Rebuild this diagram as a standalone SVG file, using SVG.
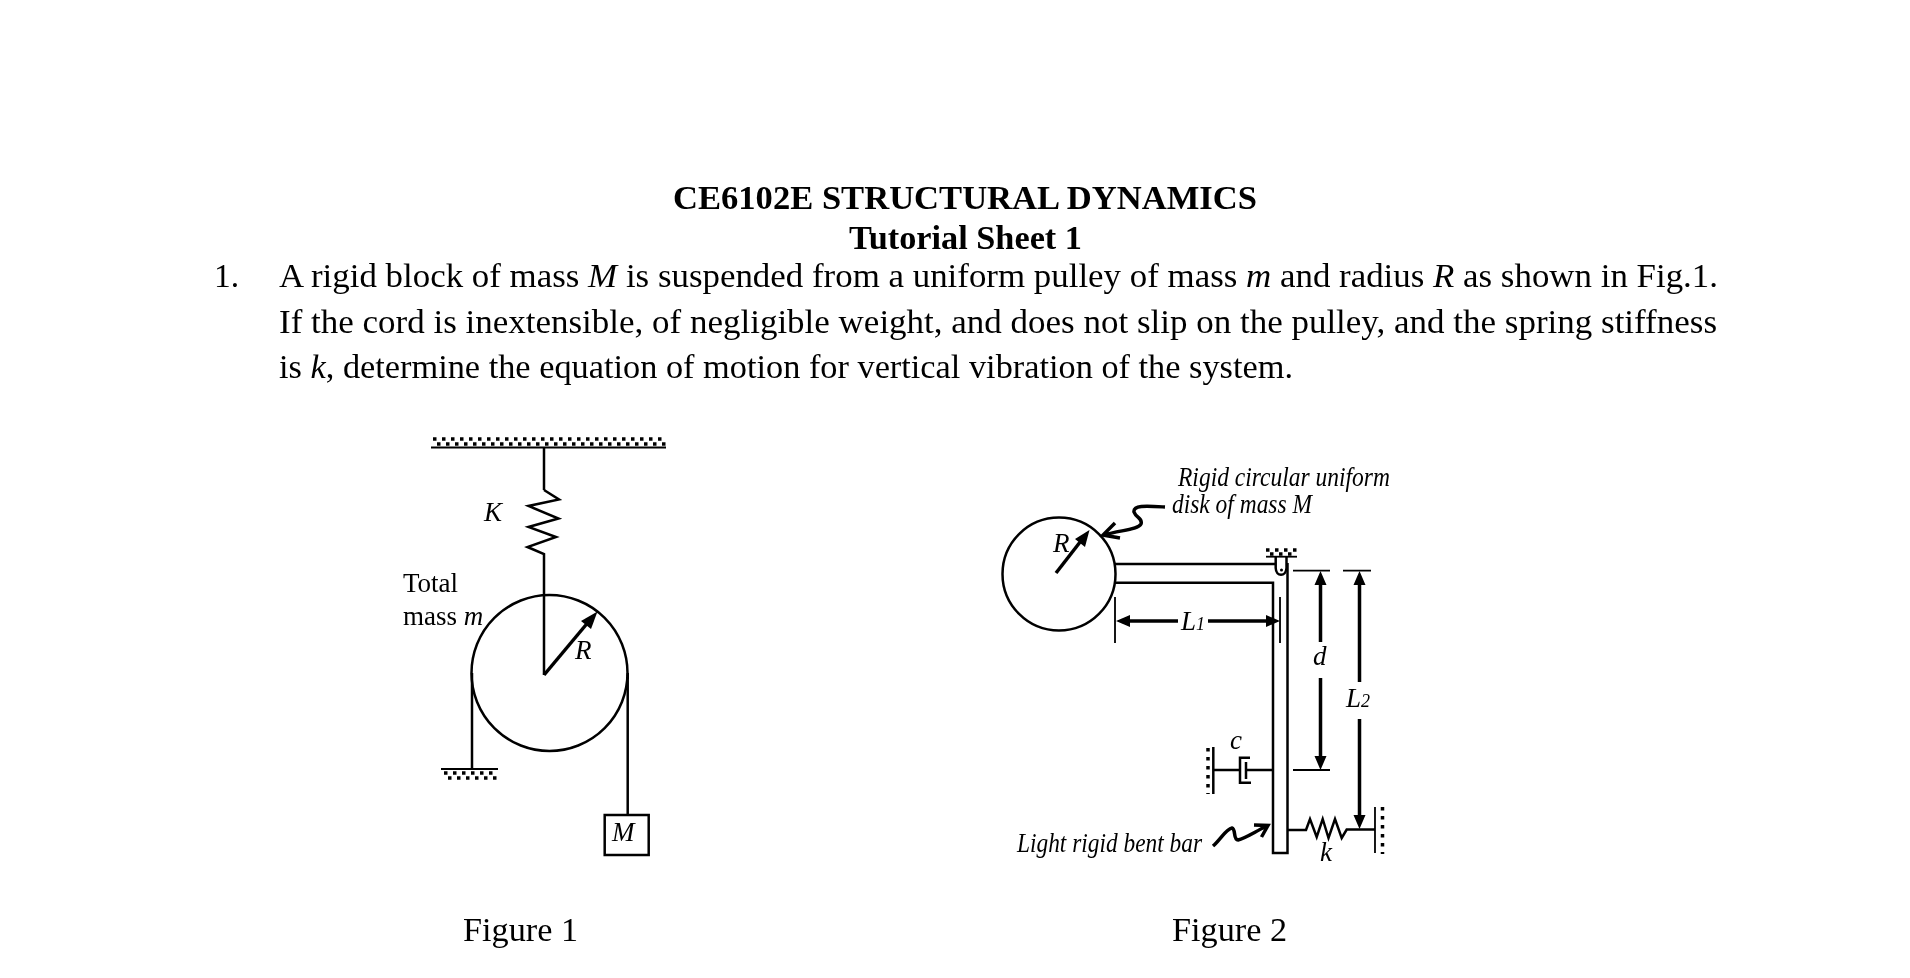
<svg xmlns="http://www.w3.org/2000/svg" width="1910" height="978" viewBox="0 0 1910 978">
<defs><filter id="soft" x="0" y="0" width="1" height="1" filterUnits="objectBoundingBox"><feGaussianBlur stdDeviation="0.45"/></filter></defs>
<style>
text{font-family:"Liberation Serif","Times New Roman",serif;fill:#000}
.b{font-size:33.500px;font-weight:bold}
.t{font-size:33.500px}
.l{font-size:27px}
.i{font-style:italic}
.s{font-size:27px;font-style:italic}
.ln{fill:none;stroke:#000;stroke-width:2.500}
.th{fill:none;stroke:#000;stroke-width:1.800}
.hv{fill:none;stroke:#000;stroke-width:3.500}
.dot{fill:none;stroke:#000;stroke-width:3.500;stroke-dasharray:3.500 5.500}
.ah{fill:#000;stroke:none}
</style>
<rect width="1910" height="978" fill="#fff"/>
<g filter="url(#soft)">
<rect width="1910" height="978" fill="#fff"/>
<g id="text-block">
<text class="b" x="673" y="209" textLength="584" lengthAdjust="spacingAndGlyphs">CE6102E STRUCTURAL DYNAMICS</text>
<text class="b" x="849" y="249" textLength="233" lengthAdjust="spacingAndGlyphs">Tutorial Sheet 1</text>
<text class="t" x="214" y="287">1.</text>
<text class="t" x="279" y="287" textLength="1439" lengthAdjust="spacingAndGlyphs">A rigid block of mass <tspan class="i">M</tspan> is suspended from a uniform pulley of mass <tspan class="i">m</tspan> and radius <tspan class="i">R</tspan> as shown in Fig.1.</text>
<text class="t" x="279" y="333" textLength="1438" lengthAdjust="spacingAndGlyphs">If the cord is inextensible, of negligible weight, and does not slip on the pulley, and the spring stiffness</text>
<text class="t" x="279" y="378" textLength="1014" lengthAdjust="spacingAndGlyphs">is <tspan class="i">k</tspan>, determine the equation of motion for vertical vibration of the system.</text>
</g>
<g id="connectors">
<path id="fig1-ceiling-cord" class="ln" d="M544 447V490"/>
<path id="fig1-spring" class="ln" d="M544 490L559 499.500L528.500 506L558.500 518.500L528.500 527L556 537L527.500 547L544 554V675"/>
<path id="fig1-radius" class="hv" d="M544 675L590 620"/>
<path class="ah" d="M597.500 611.500L591 629L581 621Z"/>
<path id="fig1-left-cord" class="ln" d="M472 673V769"/>
<path id="fig1-right-cord" class="ln" d="M627.700 673V815"/>
<path id="fig2-disk-leader" class="hv" d="M1165 507C1146 506 1133 505 1134 512C1136 518 1143 518 1141 524C1138 530 1120 530 1104 535M1115 523L1103 535L1120 538"/>
<path id="fig2-bar-leader" class="hv" d="M1213 846C1220 840 1226 829 1232 828C1236 829 1233 840 1238 840C1246 838 1256 831 1267 826M1254 825L1268 825.500L1261.500 837"/>
<path id="fig2-spring" class="ln" d="M1288 830H1306L1310 819L1316.700 837L1322.700 819L1328.500 838L1335 819L1341.700 838L1346.700 829.500H1375"/>
<path id="fig2-damper-rod" class="ln" d="M1213 770H1240M1246 770H1273"/>
</g>
<g id="node-fig1-ceiling">
<path class="dot" d="M433 439H666"/><path class="dot" d="M437 444H666"/>
<path class="th" d="M431 447.500H666"/>
</g>
<g id="node-fig1-ground">
<path class="th" d="M441 769H498"/>
<path class="dot" d="M444 773H498"/><path class="dot" d="M448 778H498"/>
</g>
<g id="node-fig1-pulley"><circle cx="549.500" cy="673" r="78" class="ln"/></g>
<g id="node-fig1-block"><rect x="604.700" y="815" width="44" height="40" class="ln"/>
<text class="s" x="612" y="841">M</text></g>
<g id="fig1-labels">
<text class="s" x="484" y="521">K</text>
<text class="l" x="403" y="592">Total</text>
<text class="l" x="403" y="625">mass <tspan class="i">m</tspan></text>
<text class="s" x="575" y="659">R</text>
<text class="t" x="463" y="941" textLength="115" lengthAdjust="spacingAndGlyphs">Figure 1</text>
</g>
<g id="node-fig2-disk"><circle cx="1059" cy="574" r="56.500" class="ln"/>
<path class="hv" d="M1056 573L1084 537"/><path class="ah" d="M1089.500 530L1085 547L1075 539Z"/>
<text class="s" x="1053" y="552">R</text></g>
<g id="node-fig2-bar">
<path class="ln" d="M1115 564H1275M1115 582.700H1273V853H1287.500V563"/>
</g>
<g id="node-fig2-pivot">
<path class="th" d="M1266 556.700H1297"/>
<path class="dot" d="M1266 550H1297"/>
<path class="dot" d="M1270 554H1297"/>
<path class="ln" d="M1275.700 557V568C1276 577 1286 577 1286.500 568V557"/>
<circle cx="1281.500" cy="570" r="1.500" fill="#000"/>
</g>
<g id="node-fig2-damper">
<path class="ln" d="M1250 757.700H1240V782.700H1251M1246 762V779"/>
<path class="ln" d="M1213.300 747V794"/>
<path class="dot" d="M1208 748V794"/>
<text class="s" x="1230" y="749">c</text>
</g>
<g id="node-fig2-wall">
<path class="th" d="M1375 807V853"/>
<path class="dot" d="M1382.500 807V854"/>
<text class="s" x="1320" y="861">k</text>
</g>
<g id="fig2-dimensions">
<path class="th" d="M1293 570.700H1330M1343 570.700H1371M1293 770H1330M1115 597V643M1280 597V643"/>
<path class="hv" d="M1320.500 583V642M1320.500 678V758M1359.500 583V682M1359.500 719V816M1128 621H1178M1208 621H1268"/>
<path class="ah" d="M1320.500 571L1314.500 585H1326.500ZM1320.500 770L1314.500 756H1326.500ZM1359.500 571L1353.500 585H1365.500ZM1359.500 829L1353.500 815H1365.500ZM1116 621L1130 615V627ZM1280 621L1266 615V627Z"/>
<text class="s" x="1313" y="665">d</text>
<text class="s" x="1346" y="707">L<tspan font-size="18">2</tspan></text>
<text class="s" x="1181" y="630">L<tspan font-size="18">1</tspan></text>
</g>
<g id="fig2-labels">
<text class="s" x="1178" y="486" textLength="212" lengthAdjust="spacingAndGlyphs">Rigid circular uniform</text>
<text class="s" x="1172" y="513" textLength="140" lengthAdjust="spacingAndGlyphs">disk of mass M</text>
<text class="s" x="1017" y="852" textLength="185" lengthAdjust="spacingAndGlyphs">Light rigid bent bar</text>
<text class="t" x="1172" y="941" textLength="115" lengthAdjust="spacingAndGlyphs">Figure 2</text>
</g>
</g>
</svg>
